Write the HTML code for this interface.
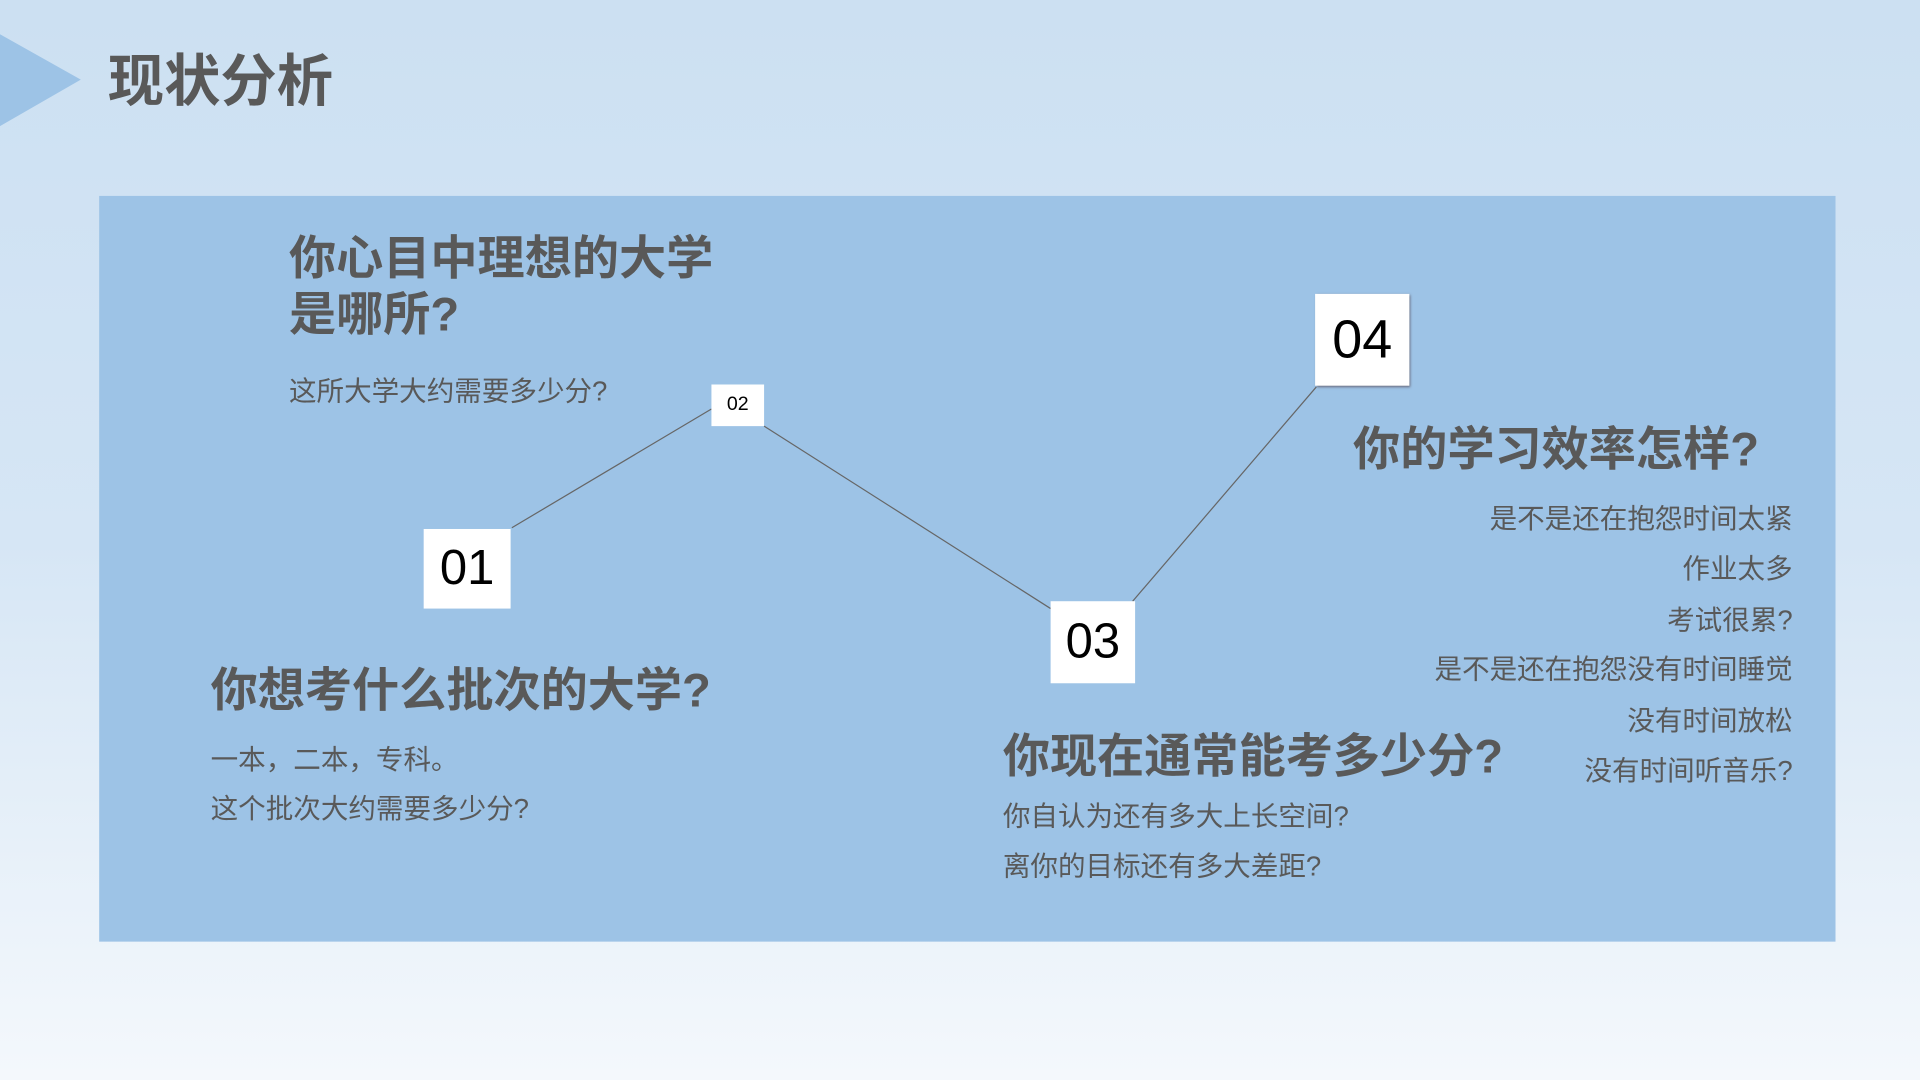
<!DOCTYPE html>
<html><head><meta charset="utf-8"><style>
html,body{margin:0;padding:0;width:1920px;height:1080px;overflow:hidden}
body{background:linear-gradient(#cce0f2 0%,#d6e6f5 50%,#f4f8fc 100%)}
#s{position:absolute;left:0;top:0;width:1568px;height:882px;transform:scale(1.22449);transform-origin:0 0;font-family:"Liberation Sans","Noto Sans CJK SC",sans-serif;color:#595959}
.a{position:absolute;white-space:nowrap}
.h{font-weight:bold;font-size:38.5px;line-height:46px}
.t{font-size:22.5px;line-height:26px}
.r{text-align:right}
.b{position:absolute;background:#fff;color:#000;display:flex;align-items:center;justify-content:center}
</style></head><body><div id="s">
<svg class="a" style="left:0;top:0" width="1568" height="882">
<polygon points="0,28 66,65 0,103" fill="#9dc3e6"/>
<rect x="81" y="160" width="1418" height="609" fill="#9dc3e6"/>
<polyline points="418,431 581,334" stroke="#666" stroke-width="1" fill="none"/>
<polyline points="624,348 858,497" stroke="#666" stroke-width="1" fill="none"/>
<polyline points="925,491 1075,316" stroke="#666" stroke-width="1" fill="none"/>
</svg>
<div class="a" style="left:88px;top:39px;font-size:46px;font-weight:bold;line-height:54px">现状分析</div>
<div class="a h" style="left:236px;top:189px">你心目中理想的大学<br>是哪所?</div>
<div class="a t" style="left:236px;top:307px">这所大学大约需要多少分?</div>
<div class="b" style="left:581px;top:314px;width:43px;height:34px;font-size:16px">02</div>
<div class="b" style="left:346px;top:432px;width:71px;height:65px;font-size:40px">01</div>
<div class="b" style="left:858px;top:491px;width:69px;height:67px;font-size:40px">03</div>
<div class="b" style="left:1074px;top:240px;width:77px;height:75px;font-size:44px;box-shadow:1px 1px 2px #667">04</div>
<div class="a h" style="left:172px;top:542px">你想考什么批次的大学?</div>
<div class="a t" style="left:172px;top:608px">一本，二本，专科。</div>
<div class="a t" style="left:172px;top:648px">这个批次大约需要多少分?</div>
<div class="a h" style="left:819px;top:596px">你现在通常能考多少分?</div>
<div class="a t" style="left:819px;top:654px">你自认为还有多大上长空间?</div>
<div class="a t" style="left:819px;top:695px">离你的目标还有多大差距?</div>
<div class="a h" style="left:1105px;top:345px">你的学习效率怎样?</div>
<div class="a t r" style="right:104px;top:411px">是不是还在抱怨时间太紧</div>
<div class="a t r" style="right:104px;top:452px">作业太多</div>
<div class="a t r" style="right:104px;top:494px">考试很累?</div>
<div class="a t r" style="right:104px;top:534px">是不是还在抱怨没有时间睡觉</div>
<div class="a t r" style="right:104px;top:576px">没有时间放松</div>
<div class="a t r" style="right:104px;top:617px">没有时间听音乐?</div>
</div></body></html>
